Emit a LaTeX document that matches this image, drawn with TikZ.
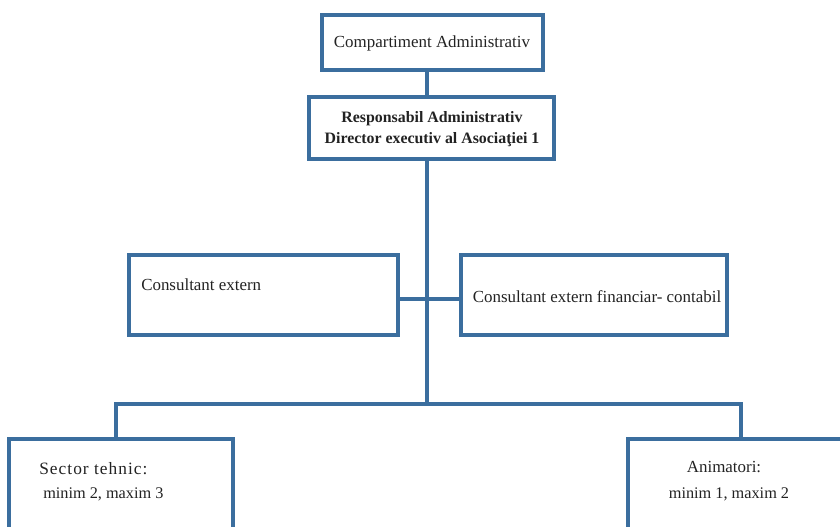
\documentclass[tikz,border=0pt]{standalone}
\usepackage{fontspec}
\setmainfont{Liberation Serif}
\definecolor{lineblue}{HTML}{3B6E9E}
\definecolor{txt}{HTML}{222222}
\begin{document}
\begin{tikzpicture}[x=0.75pt,y=-0.75pt,
  box/.style={draw=lineblue,line width=2.3pt,inner sep=0pt},
  conn/.style={draw=lineblue,line width=2.3pt},
  lbl/.style={inner sep=0pt,text=txt,font=\fontsize{12.7}{15}\selectfont},
  blbl/.style={inner sep=0pt,text=txt,font=\fontsize{11.9}{15.5}\selectfont\bfseries,align=center}]
\useasboundingbox (0,0) rectangle (840,526);
\clip (0,0) rectangle (840,526);
% helper coordinates
\coordinate (t) at (427,0);
\coordinate (h) at (0,299);
\coordinate (dl) at (116,404);
\coordinate (dr) at (741,404);
% boxes (sizes in pt = 0.75 * px)
\node[box,minimum width=165.75pt,minimum height=41.25pt] (top) at (432.5,42.5) {};
\node[box,minimum width=183.75pt,minimum height=46.5pt] (resp) at (431.5,128) {};
\node[box,minimum width=201.75pt,minimum height=60pt] (ce) at (263.5,295) {};
\node[box,minimum width=199.5pt,minimum height=60pt] (cef) at (594,295) {};
\node[box,minimum width=168pt,minimum height=82.5pt] (st) at (121,494) {};
\node[box,minimum width=166.5pt,minimum height=82.5pt] (an) at (739,494) {};
% connectors
\draw[conn] (t |- top.south) -- (t |- resp.north);
\draw[conn] (t |- resp.south) -- (t |- dl);
\draw[conn] (dl |- st.north) -- (dl) -- (dr) -- (dr |- an.north);
\draw[conn] (ce.east |- h) -- (cef.west |- h);
% texts
\node[lbl] (topt) at (432,43) {Compartiment Administrativ};
\node[blbl] (respt) at (432,129) {Responsabil Administrativ\\Director executiv al Asocia\c{t}iei 1};
\node[lbl,anchor=west] (cet) at (141,285) {Consultant extern};
\node[lbl] (ceft) at (597,297) {Consultant extern financiar- contabil};
\node[lbl,anchor=west,font=\fontsize{13}{15}\selectfont\addfontfeature{LetterSpace=6}] (stt) at (39,469) {Sector tehnic:};
\node[lbl,anchor=west,font=\fontsize{12.2}{15}\selectfont] (stt2) at (43,494) {minim 2, maxim 3};
\node[lbl] (ant) at (724,467) {Animatori:};
\node[lbl,font=\fontsize{12.2}{15}\selectfont] (ant2) at (729,494) {minim 1, maxim 2};
\end{tikzpicture}
\end{document}
